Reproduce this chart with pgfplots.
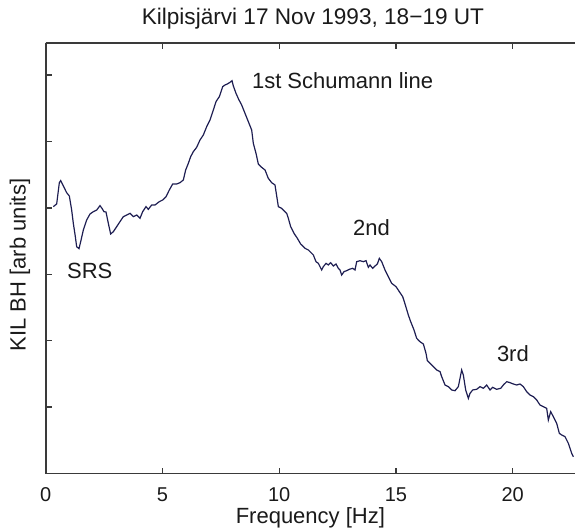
\documentclass[border=0pt]{standalone}
\usepackage{fontspec}
\setmainfont{Liberation Sans}
\usepackage{pgfplots}
\pgfplotsset{compat=1.18}
\definecolor{curve}{HTML}{1E1E52}
\definecolor{axcol}{HTML}{3A3A3A}
\definecolor{txt}{HTML}{1A1A1A}
\begin{document}
\begin{tikzpicture}
\begin{axis}[
  name=ax,
  scale only axis,
  width=264.65pt, height=215.4pt,
  xmin=0, xmax=22.668, ymin=0, ymax=6.488,
  axis x line*=box, axis y line*=left,
  axis line style={axcol, line width=0.9pt},
  every tick/.style={axcol, line width=0.7pt},
  tick align=inside,
  major tick length=3pt,
  xtick={0,5,10,15,20},
  ytick={0,1,2,3,4,5,6},
  yticklabels={},
  /pgf/number format/assume math mode=true,
  tick label style={font=\fontsize{10}{12}\selectfont, text=txt},
  xticklabel style={anchor=base, yshift=-13.75pt},
  label style={font=\fontsize{11}{13}\selectfont, text=txt},
  xlabel={Frequency [Hz]},
  xlabel style={at={(axis description cs:0.5,-0.1172)}, anchor=base},
  ylabel={KIL BH [arb units]},
  ylabel style={at={(axis description cs:-0.0486,0.484)}, anchor=center},
  clip=true,
]
\addplot[curve, line width=0.6pt] coordinates {
(0.327,4.019) (0.470,4.059) (0.584,4.380) (0.641,4.410) (0.755,4.330) (0.898,4.229)
(1.012,4.179) (1.112,3.968) (1.183,3.768) (1.269,3.567) (1.326,3.416) (1.426,3.386)
(1.498,3.491) (1.612,3.667) (1.755,3.818) (1.897,3.908) (2.040,3.943) (2.183,3.968)
(2.326,4.034) (2.411,3.993) (2.497,3.943) (2.582,3.938) (2.682,3.768) (2.782,3.607)
(2.897,3.642) (3.039,3.717) (3.182,3.793) (3.325,3.868) (3.468,3.893) (3.610,3.918)
(3.753,3.868) (3.896,3.893) (4.039,3.843) (4.153,3.943) (4.296,4.019) (4.395,3.978)
(4.538,4.044) (4.681,4.044) (4.866,4.094) (5.009,4.119) (5.152,4.169) (5.295,4.270)
(5.438,4.360) (5.609,4.360) (5.752,4.380) (5.894,4.420) (5.994,4.571) (6.108,4.671)
(6.209,4.772) (6.323,4.847) (6.465,4.912) (6.608,5.023) (6.751,5.098) (6.894,5.223)
(7.036,5.324) (7.179,5.474) (7.293,5.600) (7.436,5.675) (7.579,5.826) (7.679,5.851)
(7.779,5.866) (7.893,5.891) (7.979,5.916) (8.036,5.836) (8.150,5.725) (8.264,5.635)
(8.393,5.550) (8.535,5.424) (8.678,5.299) (8.821,5.173) (8.892,4.972) (9.006,4.822)
(9.106,4.661) (9.249,4.611) (9.392,4.571) (9.534,4.445) (9.677,4.380) (9.820,4.345)
(9.963,4.019) (10.106,3.993) (10.248,3.943) (10.320,3.918) (10.391,3.843) (10.491,3.717)
(10.634,3.617) (10.777,3.542) (10.919,3.456) (11.105,3.391) (11.248,3.366)
(11.319,3.341) (11.462,3.291) (11.576,3.190) (11.676,3.165) (11.819,3.065) (11.890,3.115)
(12.004,3.165) (12.104,3.140) (12.204,3.175) (12.318,3.125) (12.433,3.155) (12.533,3.090)
(12.604,3.065) (12.675,2.989) (12.775,3.040) (12.889,3.055) (13.004,3.075) (13.146,3.090)
(13.246,3.065) (13.318,3.190) (13.461,3.205) (13.603,3.190) (13.718,3.205) (13.817,3.105)
(13.889,3.140) (14.003,3.090) (14.103,3.125) (14.203,3.155) (14.288,3.240) (14.389,3.190)
(14.531,3.065) (14.674,2.964) (14.817,2.864) (15.002,2.814) (15.145,2.738) (15.288,2.663)
(15.345,2.603) (15.431,2.503) (15.530,2.387) (15.630,2.287) (15.773,2.161) (15.887,2.036)
(16.030,1.985) (16.173,1.950) (16.287,1.810) (16.344,1.699) (16.530,1.634) (16.744,1.559)
(16.887,1.534) (16.958,1.458) (17.101,1.333) (17.243,1.308) (17.386,1.258) (17.529,1.247)
(17.672,1.308) (17.743,1.433) (17.815,1.559) (17.886,1.483) (17.986,1.258) (18.100,1.132)
(18.171,1.207) (18.286,1.258) (18.457,1.268) (18.600,1.308) (18.742,1.283) (18.885,1.333)
(19.028,1.258) (19.142,1.298) (19.313,1.268) (19.485,1.283) (19.599,1.333) (19.742,1.383)
(19.884,1.368) (20.027,1.348) (20.170,1.333) (20.313,1.348) (20.456,1.308) (20.598,1.232)
(20.741,1.182) (20.884,1.157) (21.027,1.107) (21.169,1.032) (21.312,1.006) (21.455,0.981)
(21.526,0.806) (21.626,0.931) (21.740,0.856) (21.883,0.756) (21.997,0.605) (22.097,0.580)
(22.240,0.555) (22.383,0.454) (22.526,0.304) (22.597,0.253)
};
\node[anchor=base west, inner sep=0pt, text=txt, font=\fontsize{11}{13}\selectfont] at (axis cs:8.82,5.80) {1st Schumann line};
\node[anchor=base west, inner sep=0pt, text=txt, font=\fontsize{11}{13}\selectfont] at (axis cs:0.90,2.94) {SRS};
\node[anchor=base west, inner sep=0pt, text=txt, font=\fontsize{11}{13}\selectfont] at (axis cs:13.15,3.58) {2nd};
\node[anchor=base west, inner sep=0pt, text=txt, font=\fontsize{11}{13}\selectfont] at (axis cs:19.31,1.684) {3rd};
\end{axis}
\node[anchor=base, inner sep=0pt, text=txt, font=\fontsize{11.3}{13}\selectfont] at ([xshift=1.3pt,yshift=8.85pt]ax.north) {Kilpisjärvi 17 Nov 1993, 18−19 UT};
\pgfresetboundingbox
\path[use as bounding box] ([xshift=-22.85pt,yshift=-27.75pt]ax.south west) rectangle ([yshift=21.35pt]ax.north east);
\end{tikzpicture}
\end{document}
